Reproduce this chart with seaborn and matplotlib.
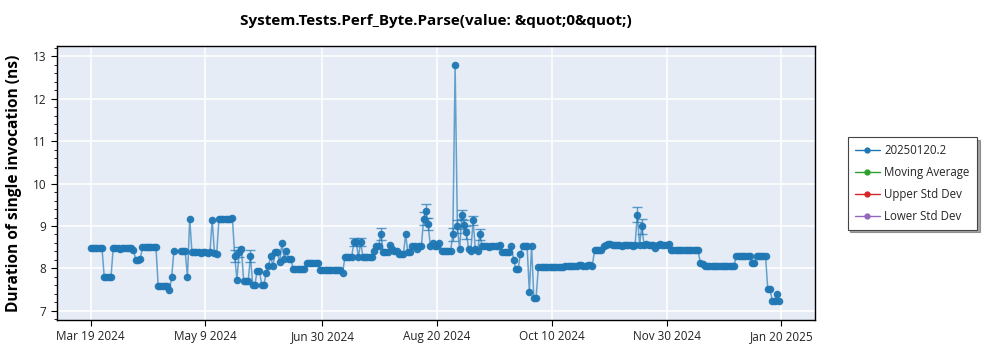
import numpy as np
import pandas as pd
import matplotlib
matplotlib.use("Agg")
import matplotlib.pyplot as plt
import matplotlib.dates as mdates
from matplotlib.ticker import MultipleLocator
import seaborn as sns

# ---------------- data (daily, starting 2024-03-19; nan = no run) ----------------
start_date = "2024-03-19"
nan = float("nan")
values = [
    8.48, 8.48, 8.48, 8.48, 8.48, 8.48, 7.80, 7.80, 7.80, 7.80,   # 0-9
    8.48, 8.48, 8.48, 8.47, 8.48, 8.48, 8.49, 8.48, 8.48, 8.43,   # 10-19
    8.21, 8.21, 8.22, 8.50, 8.51, 8.50, 8.50, 8.50, 8.51, 8.50,   # 20-29
    7.58, 7.58, 7.58, 7.58, 7.58, 7.49, 7.81, 8.42, nan, nan,     # 30-39
    8.40, 8.40, 8.40, 7.80, 9.17, 8.38, 8.38, 8.38, 8.38, 8.37,   # 40-49
    8.38, 8.38, 8.37, 8.38, 9.15, 8.37, 8.35, 9.16, 9.16, 9.16,   # 50-59
    9.16, 9.17, 9.17, 9.18, 8.29, 7.74, 8.38, 8.46, 7.70, 7.70,   # 60-69
    7.70, 8.29, 7.62, 7.62, 7.95, 7.95, 7.62, 7.62, 7.90, 8.05,   # 70-79
    8.29, 8.05, 8.38, 8.38, 8.15, 8.60, 8.23, 8.41, 8.23, 8.23,   # 80-89
    7.98, 7.98, 7.98, 7.98, 7.98, 7.98, 8.12, 8.12, 8.12, 8.12,   # 90-99
    8.12, 8.12, 7.97, 7.97, 7.97, 7.97, 7.97, 7.97, 7.97, 7.97,   # 100-109
    7.97, 7.97, 7.90, 8.27, 8.27, 8.27, 8.27, 8.62, 8.63, 8.27,   # 110-119
    8.62, 8.27, 8.27, 8.27, 8.27, 8.27, 8.41, 8.54, 8.54, 8.82,   # 120-129
    8.38, 8.38, 8.38, 8.56, 8.45, 8.41, 8.41, 8.33, 8.33, 8.33,   # 130-139
    8.80, 8.38, 8.38, 8.52, 8.52, 8.45, 8.52, 8.52, 9.17, 9.35,   # 140-149
    9.05, 8.52, 8.59, 8.52, 8.52, 8.60, 8.42, 8.42, 8.42, 8.42,   # 150-159
    8.42, 8.80, 12.78, 8.99, 8.45, 9.27, 9.03, 8.85, 8.45, 8.42,  # 160-169
    9.13, 8.45, 8.42, 8.80, 8.52, 8.52, 8.52, 8.51, 8.52, 8.52,   # 170-179
    8.52, 8.52, 8.55, 8.38, 8.38, 8.38, 8.38, 8.52, 8.21, 7.98,   # 180-189
    7.98, 8.33, 8.52, 8.52, 8.52, 7.45, 8.52, 7.31, 7.31, 8.03,   # 190-199
    8.03, 8.03, 8.03, 8.03, 8.03, 8.04, 8.04, 8.04, 8.04, 8.04,   # 200-209
    8.04, 8.05, 8.05, 8.06, 8.06, 8.06, 8.07, 8.08, 8.08, 8.07,   # 210-219
    8.07, 8.08, 8.08, 8.07, 8.43, 8.43, 8.43, 8.43, 8.52, 8.56,   # 220-229
    8.57, 8.57, 8.56, 8.55, 8.56, 8.55, 8.54, 8.56, 8.55, 8.55,   # 230-239
    8.55, 8.54, 8.55, 9.27, 8.56, 8.99, 8.56, 8.57, 8.56, 8.56,   # 240-249
    8.55, 8.48, 8.56, 8.57, 8.56, 8.55, 8.56, 8.58, 8.44, 8.44,   # 250-259
    8.44, 8.44, 8.43, 8.44, 8.44, 8.44, 8.44, 8.43, 8.43, 8.44,   # 260-269
    8.43, 8.13, 8.10, 8.07, 8.06, 8.06, 8.06, 8.06, 8.06, 8.06,   # 270-279
    8.06, 8.06, 8.06, 8.06, 8.06, 8.06, 8.06, 8.30, 8.30, 8.30,   # 280-289
    8.30, 8.30, 8.30, 8.30, 8.12, 8.12, 8.30, 8.30, 8.30, 8.30,   # 290-299
    8.30, 7.52, 7.52, 7.23, 7.23, 7.41, 7.23,                     # 300-306
]
err_days = [64, 66, 71, 117, 120, 129, 148, 149, 150, 161, 163, 165, 166, 167, 170, 173, 243, 245]
err_sizes = [0.14, 0.12, 0.14, 0.10, 0.10, 0.14, 0.15, 0.17, 0.15, 0.15, 0.15, 0.10, 0.10, 0.15, 0.10, 0.12, 0.17, 0.17]

series_names = ["20250120.2", "Moving Average", "Upper Std Dev", "Lower Std Dev"]
series_colors = ["#1f77b4", "#2ca02c", "#d62728", "#9467bd"]
tick_dates = ["2024-03-19", "2024-05-09", "2024-06-30", "2024-08-20",
              "2024-10-10", "2024-11-30", "2025-01-20"]
title = "System.Tests.Perf_Byte.Parse(value: &quot;0&quot;)"
ylabel = "Duration of single invocation (ns)"

# ---------------- build frame ----------------
dates = pd.date_range(start_date, periods=len(values), freq="D")
err = np.zeros(len(values))
for d, s in zip(err_days, err_sizes):
    err[d] = s
df = pd.DataFrame({"date": dates, "value": values, "err": err}).dropna()

# ---------------- plot ----------------
sns.set_theme(style="white")
plt.rcParams["font.family"] = ["Open Sans", "DejaVu Sans"]

fig = plt.figure(figsize=(10, 3.5), dpi=100)
ax = fig.add_axes([0.057, 0.086, 0.758, 0.783])
ax.set_facecolor("#E5ECF6")

blue = series_colors[0]
sns.lineplot(data=df, x="date", y="value", ax=ax, color=blue, linewidth=1.1,
             alpha=0.65, legend=False, zorder=3)
sns.scatterplot(data=df, x="date", y="value", ax=ax, color=blue, s=30,
                linewidth=0, alpha=0.95, legend=False, zorder=4)
e = df[df["err"] > 0]
ax.errorbar(e["date"], e["value"], yerr=e["err"], fmt="none", ecolor=blue,
            elinewidth=1, capsize=3.5, capthick=1, alpha=0.7, zorder=2)

ax.set_xlim(pd.Timestamp("2024-03-04"), pd.Timestamp("2025-02-04"))
ax.set_ylim(6.79, 13.24)
ax.set_xticks(pd.to_datetime(tick_dates))
ax.xaxis.set_major_formatter(mdates.DateFormatter("%b %-d %Y"))
ax.yaxis.set_major_locator(MultipleLocator(1))
ax.yaxis.set_minor_locator(MultipleLocator(0.2))
ax.grid(True, which="major", color="white", linewidth=1.1, zorder=0)
ax.set_axisbelow(True)

for sp in ax.spines.values():
    sp.set_color("black")
    sp.set_linewidth(1)
ax.tick_params(axis="both", which="major", length=4, width=0.8, color="black",
               labelsize=8.5, labelcolor="#222222", direction="out")
ax.tick_params(axis="y", which="minor", length=2, width=0.6, color="black", left=True)
ax.tick_params(axis="x", which="major", bottom=True)
ax.tick_params(axis="y", which="major", left=True)

ax.set_xlabel("")
ax.set_ylabel(ylabel, fontsize=11.2, fontweight="bold", color="black", labelpad=8)
ax.set_title(title, fontsize=11, fontweight="bold", color="black", pad=15)

handles = []
for name, c in zip(series_names, series_colors):
    h, = ax.plot([], [], color=c, marker="o", markersize=3.5, linewidth=1, label=name)
    handles.append(h)
leg = ax.legend(handles=handles, loc="upper left", bbox_to_anchor=(1.043, 0.668),
                borderaxespad=0, fontsize=8.3, frameon=True, fancybox=False,
                shadow=True, edgecolor="#444444", handlelength=2.2,
                labelspacing=0.78, borderpad=0.6, handletextpad=0.4)
leg.get_frame().set_linewidth(0.8)

fig.savefig("out.png", dpi=100)
